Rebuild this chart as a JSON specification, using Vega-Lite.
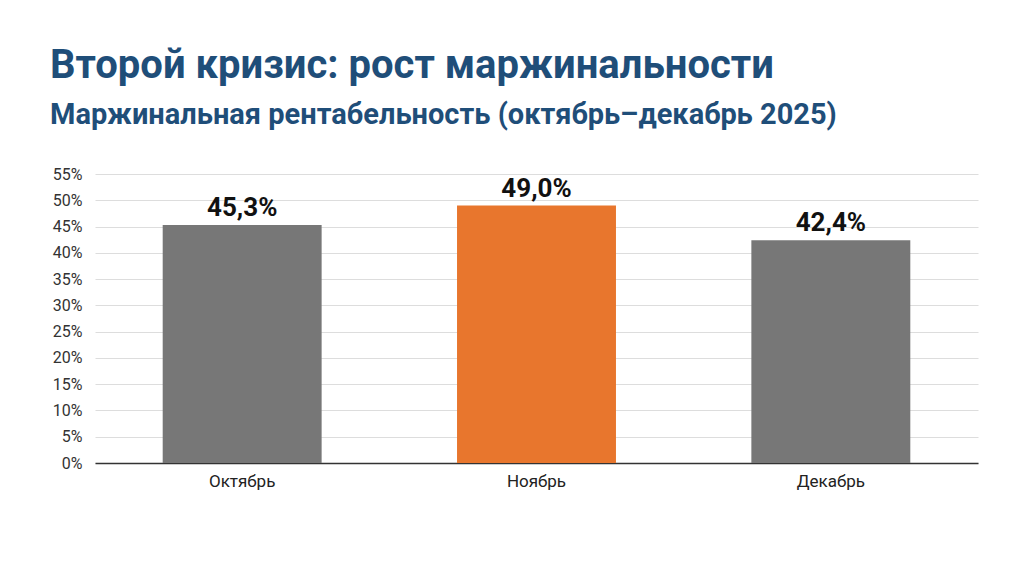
{
  "$schema": "https://vega.github.io/schema/vega-lite/v6.json",
  "autosize": {"type": "none"},
  "width": 883,
  "height": 289,
  "padding": {"left": 95, "top": 174, "right": 52, "bottom": 107},
  "background": "white",
  "title": {
    "text": "Второй кризис: рост маржинальности",
    "subtitle": "Маржинальная рентабельность (октябрь–декабрь 2025)",
    "anchor": "start",
    "frame": "group",
    "dx": -45,
    "offset": 36,
    "font": "Roboto",
    "fontSize": 40,
    "fontWeight": "bold",
    "color": "#1f4e79",
    "subtitleFont": "Roboto",
    "subtitleFontSize": 29,
    "subtitleFontWeight": "bold",
    "subtitleColor": "#1f4e79",
    "subtitlePadding": 15
  },
  "data": {
    "values": [
      {"month": "Октябрь", "margin": 0.453, "highlight": "no"},
      {"month": "Ноябрь", "margin": 0.490, "highlight": "yes"},
      {"month": "Декабрь", "margin": 0.424, "highlight": "no"}
    ]
  },
  "encoding": {
    "x": {
      "field": "month",
      "type": "nominal",
      "sort": null,
      "title": null,
      "scale": {"paddingInner": 0.46, "paddingOuter": 0.23},
      "axis": {
        "labelAngle": 0,
        "labelFont": "Roboto",
        "labelFontSize": 17,
        "labelColor": "#222",
        "labelPadding": 10,
        "ticks": false,
        "domainColor": "#333",
        "domainWidth": 1.5,
        "grid": false
      }
    },
    "y": {
      "field": "margin",
      "type": "quantitative",
      "title": null,
      "scale": {"domain": [0, 0.55]},
      "axis": {
        "values": [0, 0.05, 0.1, 0.15, 0.2, 0.25, 0.3, 0.35, 0.4, 0.45, 0.5, 0.55],
        "format": ".0%",
        "labelFont": "Roboto",
        "labelFontSize": 16,
        "labelColor": "#333",
        "labelPadding": 13,
        "ticks": false,
        "domain": false,
        "gridColor": "#dddddd",
        "gridWidth": 1
      }
    }
  },
  "layer": [
    {
      "mark": {"type": "bar"},
      "encoding": {
        "color": {
          "field": "highlight",
          "type": "nominal",
          "scale": {"domain": ["no", "yes"], "range": ["#777777", "#e8762d"]},
          "legend": null
        }
      }
    },
    {
      "mark": {
        "type": "text",
        "baseline": "alphabetic",
        "dy": -9,
        "font": "Roboto",
        "fontSize": 26,
        "fontWeight": "bold",
        "color": "#111"
      },
      "encoding": {
        "text": {"field": "margin", "type": "quantitative", "format": ".1%"}
      }
    }
  ],
  "config": {
    "locale": {
      "number": {
        "decimal": ",",
        "thousands": " ",
        "grouping": [3],
        "currency": ["", " ₽"]
      }
    },
    "view": {"stroke": null}
  }
}
